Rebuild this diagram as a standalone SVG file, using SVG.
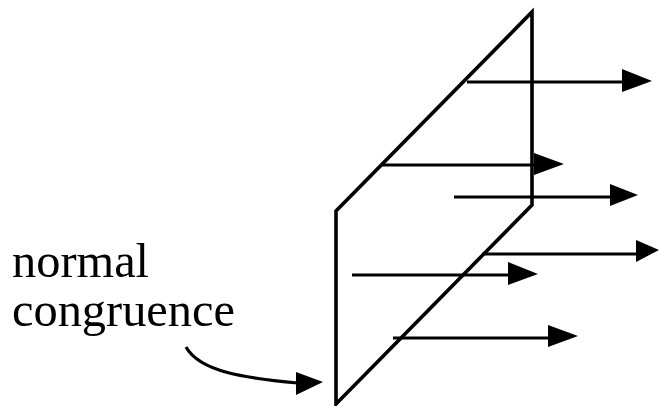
<svg xmlns="http://www.w3.org/2000/svg" width="659" height="406" viewBox="0 0 659 406">
<style>
.l{fill:none;stroke:#000;stroke-width:3.6}
.a{fill:none;stroke:#000;stroke-width:3.2}
.h{fill:#000;stroke:none}
text{font-family:"Liberation Serif",serif;font-size:48.4px;fill:#000}
</style>
<rect width="659" height="406" fill="#fff"/>
<g id="plane"><path class="l" d="M532 12L532 205L336 404L336 211Z"/></g>
<g id="connectors">
<path class="a" d="M467 82H625"/><path class="h" d="M622 69L652 81L622 92Z"/>
<path class="a" d="M381 165H536"/><path class="h" d="M534 153L564 164L534 175Z"/>
<path class="a" d="M454 197H610"/><path class="h" d="M610 184L638 195L610 206Z"/>
<path class="a" d="M482 254H636"/><path class="h" d="M636 240L659 250L636 262Z"/>
<path class="a" d="M352 275H510"/><path class="h" d="M508 262L538 274L508 285Z"/>
<path class="a" d="M393 338H550"/><path class="h" d="M548 325L578 336L548 347Z"/>
<path class="a" d="M186 347C200 372 245 378 298 383"/><path class="h" d="M296 372L323 382L296 395Z"/>
</g>
<g id="label"><text x="12" y="277">normal</text><text x="12" y="326">congruence</text></g>
</svg>
